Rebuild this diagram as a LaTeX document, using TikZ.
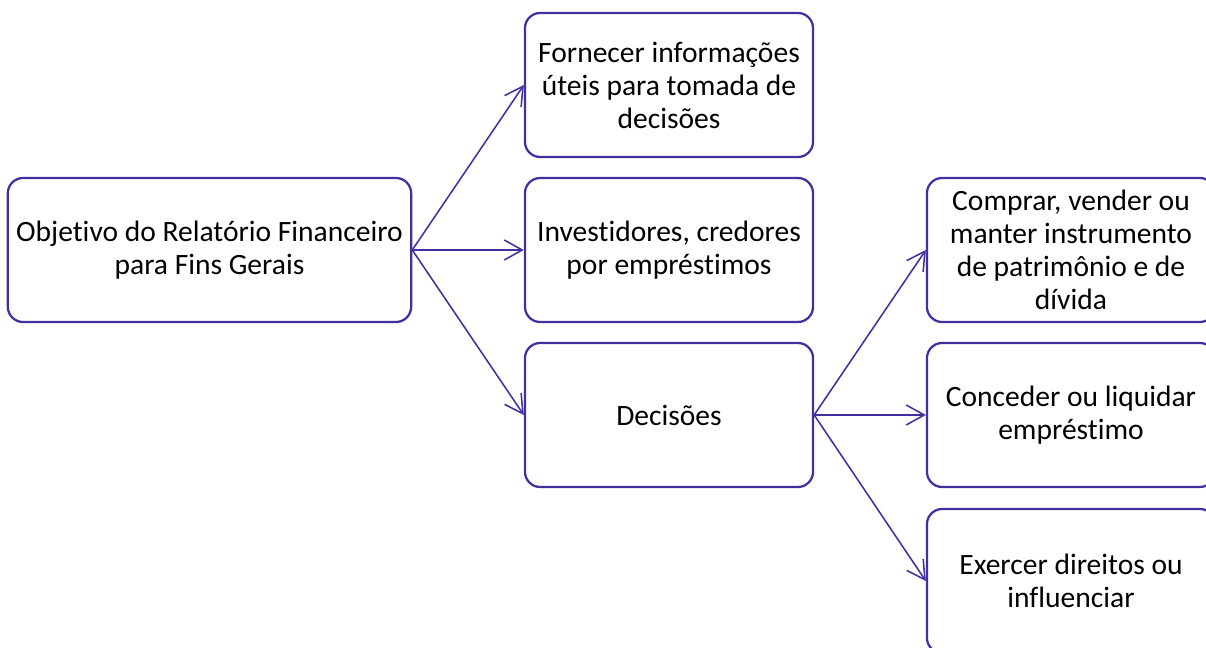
\documentclass[tikz,border=0pt]{standalone}
\usepackage{fontspec}
\setmainfont{Carlito}[Ligatures=NoCommon]
\usetikzlibrary{arrows.meta}
\definecolor{roxo}{RGB}{64,48,160}

\begin{document}
\begin{tikzpicture}[
    x=0.025cm, y=0.025cm,
    box/.style={rectangle, draw=roxo, line width=1.6pt, align=center, text centered, minimum width=7.2cm, minimum height=3.6cm, rounded corners=0.38cm, font=\fontsize{21}{23.5}\selectfont},
    arrow/.style={-{Straight Barb[length=0.45cm, width=0.5cm, line width=1.1pt]}, line width=1.1pt, draw=roxo}
]
\clip (0,0) rectangle (1206,647);

% Objetivo
\node[box, minimum width=10.08cm] (obj) at (209.5,397) {Objetivo do Relatório Financeiro\\para Fins Gerais};

% Coluna central
\node[box] (info) at (669,562) {Fornecer informações\\úteis para tomada de\\decisões};
\node[box] (inv) at (669,397) {Investidores, credores\\por empréstimos};
\node[box] (dec) at (669,232) {Decisões};

% Coluna da direita
\node[box] (comp) at (1071,397) {Comprar, vender ou\\manter instrumento\\de patrimônio e de\\dívida};
\node[box] (conc) at (1071,232) {Conceder ou liquidar\\empréstimo};
\node[box] (exer) at (1071,66) {Exercer direitos ou\\influenciar};

% Conexões
\draw[arrow] (obj.east) -- (info.west);
\draw[arrow] (obj.east) -- (inv.west);
\draw[arrow] (obj.east) -- (dec.west);
\draw[arrow] (dec.east) -- (comp.west);
\draw[arrow] (dec.east) -- (conc.west);
\draw[arrow] (dec.east) -- (exer.west);
\end{tikzpicture}
\end{document}
